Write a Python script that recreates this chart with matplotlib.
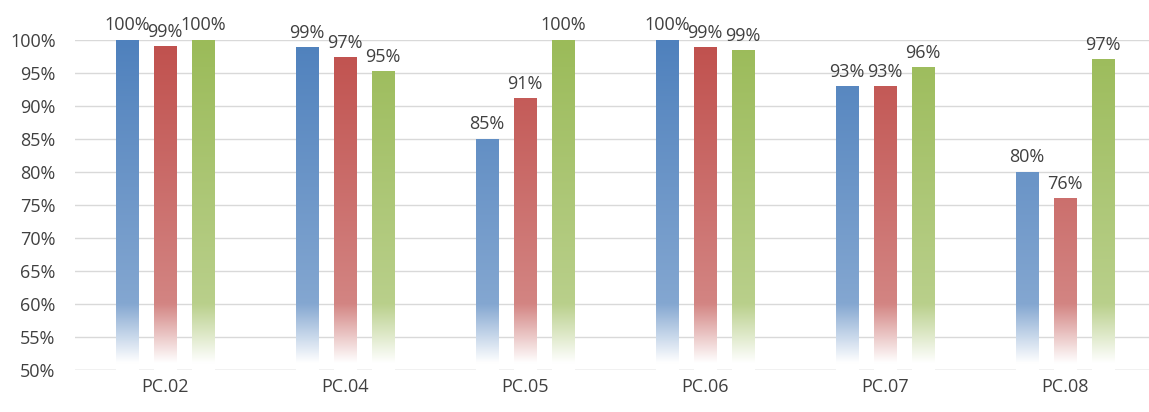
import matplotlib.pyplot as plt
import numpy as np
from matplotlib.colors import to_rgb

categories = ['PC.02', 'PC.04', 'PC.05', 'PC.06', 'PC.07', 'PC.08']
series_a = [100.0, 98.9, 85.0, 100.0, 92.9, 80.0]
series_b = [99.0, 97.3, 91.2, 98.8, 92.9, 76.0]
series_c = [100.0, 95.2, 100.0, 98.4, 95.9, 97.0]
labels_a = ['100%', '99%', '85%', '100%', '93%', '80%']
labels_b = ['99%', '97%', '91%', '99%', '93%', '76%']
labels_c = ['100%', '95%', '100%', '99%', '96%', '97%']

colors = ['#4F81BD', '#C0504D', '#9BBB59']
text_col = '#404040'
plt.rcParams['font.family'] = ['Open Sans', 'DejaVu Sans']

YMIN, YMAX = 50, 100


def white_frac(y):
    # lighter towards the bottom, fading out completely near the axis
    f = np.where(y >= 60, 0.3 * (100 - y) / 40, 0.3 + 0.7 * (60 - y) / 9)
    return np.clip(f, 0, 1)


def gradient_bar(ax, x, width, top, color):
    ys = np.linspace(top, YMIN, 200)
    f = white_frac(ys)[:, None]
    rgb = np.array(to_rgb(color))[None, :]
    img = rgb * (1 - f) + f
    ax.imshow(img[:, None, :], extent=(x - width / 2, x + width / 2, YMIN, top),
              aspect='auto', zorder=2, interpolation='bilinear')


fig = plt.figure(figsize=(11.49, 4.12), dpi=100)
ax = fig.add_axes([75 / 1149, 42 / 412, 1080 / 1149, 330 / 412])

x = np.arange(len(categories))
offset = 0.21
width = 0.125
for k, (vals, labs) in enumerate(zip([series_a, series_b, series_c],
                                     [labels_a, labels_b, labels_c])):
    for i, (v, lab) in enumerate(zip(vals, labs)):
        xi = x[i] + (k - 1) * offset
        gradient_bar(ax, xi, width, v, colors[k])
        ax.annotate(lab, (xi, v), xytext=(0, 4), textcoords='offset points',
                    ha='center', va='bottom', fontsize=13, color=text_col,
                    annotation_clip=False)

ax.set_xlim(-0.5, 5.5)
ax.set_ylim(YMIN, YMAX)
ax.set_yticks(np.arange(50, 101, 5))
ax.set_yticklabels([f'{t}%' for t in range(50, 101, 5)])
ax.set_xticks(x)
ax.set_xticklabels(categories)
ax.yaxis.grid(True, color='#D9D9D9', linewidth=1, zorder=0)
ax.set_axisbelow(True)
for s in ax.spines.values():
    s.set_visible(False)
ax.axhline(YMIN, color='#D9D9D9', linewidth=1, zorder=1)
ax.tick_params(length=0, labelsize=13, colors=text_col, pad=6)
ax.tick_params(axis='y', pad=14)

plt.savefig('out.png', dpi=100)
